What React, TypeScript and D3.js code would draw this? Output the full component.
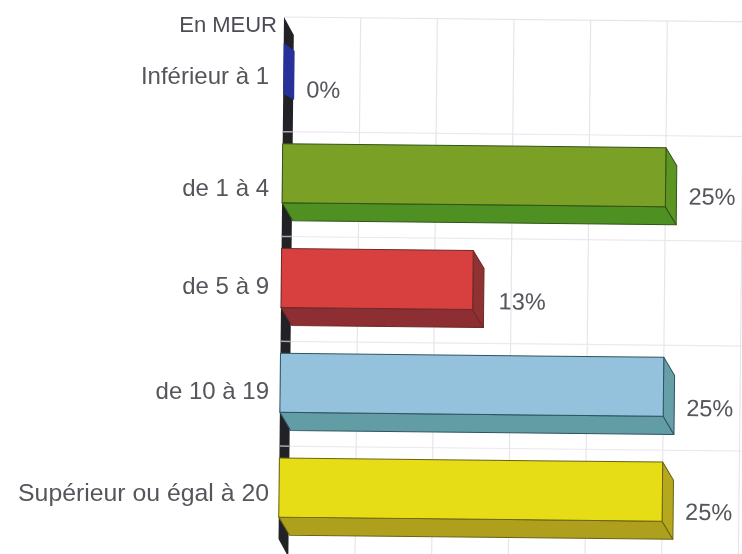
import React from "react";
import * as d3 from "d3";

const categories = ["Inférieur à 1", "de 1 à 4", "de 5 à 9", "de 10 à 19", "Supérieur ou égal à 20"];
const values = [0, 25, 12.5, 25, 25];
const valueLabels = ["0%", "25%", "13%", "25%", "25%"];
const xTicks = [0, 5, 10, 15, 20, 25, 30];
const frontColors = ["#27309a", "#7aa026", "#d8413f", "#94c2dc", "#e6dd14"];
const sideColors = ["#27309a", "#5c9524", "#8f3033", "#669fa8", "#b5a81e"];
const bottomColors = ["#27309a", "#4f9022", "#8c2d30", "#629ca4", "#aea01a"];
const edgeColors = ["#1c2270", "#33531a", "#6e2a2a", "#2f5560", "#6b6418"];
const unitLabel = "En MEUR";
const labelNudge = [10, 17, 10, 10, 7];
const labelSizes = [24, 24, 24, 24, 24.8];
const valueNudge = [29, 27, 29, 29, 28];
const valueGap = [23, 23, 26, 23, 23];

const W = 742, H = 554;
const ox = 284, oy = 17, tilt = 0.6;
const dx = 11, dy = 18;
const x = d3.scaleLinear().domain([0, 30]).range([0, 460]);
const y = d3.scaleBand<string>().domain(categories).range([-1, 523]).paddingInner(0.437).paddingOuter(0.218);
const FONT = "'Liberation Sans', Arial, sans-serif";
const pts = (p: number[][]) => p.map((q) => q.join(",")).join(" ");

export default function App() {
  const bw = y.bandwidth();
  return (
    <svg width={W} height={H} style={{ position: "absolute", left: 0, top: 0, background: "#fff" }} fontFamily={FONT}>
      <defs>
        <filter id="scan" x="-2%" y="-2%" width="104%" height="104%">
          <feGaussianBlur stdDeviation="0.55" />
        </filter>
      </defs>
      <g filter="url(#scan)">
        <g transform={`translate(${ox},${oy}) rotate(${tilt})`}>
          <line x1={0} y1={0} x2={470} y2={0} stroke="#e8e4ec" strokeWidth={1.2} />
          {categories.slice(1).map((c) => (
            <line key={c} x1={0} x2={470} y1={(y(c) as number) - 12} y2={(y(c) as number) - 12} stroke="#ece8f0" strokeWidth={1.2} />
          ))}
          {xTicks.slice(1).map((t) => (
            <line key={t} x1={x(t)} x2={x(t)} y1={0} y2={540} stroke="#e8e4ec" strokeWidth={1.2} />
          ))}
          <polygon points={pts([[0, 0], [10, 18], [10, 540], [0, 522]])} fill="#232326" />
          {categories.slice(1).map((c) => (
            <line key={c} x1={0} x2={10} y1={(y(c) as number) - 12} y2={(y(c) as number) - 12} stroke="#a9a9ad" strokeWidth={1.5} />
          ))}
          {categories.map((c, i) => {
            const t = y(c) as number;
            const w = x(values[i]);
            const edge = edgeColors[i];
            if (values[i] === 0) {
              return <polygon key={c} points={pts([[0, t + 4], [dx, t + 12], [dx, t + bw + 2], [0, t + bw - 4]])} fill={frontColors[i]} />;
            }
            return (
              <g key={c} stroke={edge} strokeWidth={1} strokeLinejoin="round">
                <polygon points={pts([[0, t + bw], [w, t + bw], [w + dx, t + bw + dy], [dx, t + bw + dy]])} fill={bottomColors[i]} />
                <polygon points={pts([[w, t], [w + dx, t + dy], [w + dx, t + bw + dy], [w, t + bw]])} fill={sideColors[i]} />
                <rect x={0} y={t} width={w} height={bw} fill={frontColors[i]} />
              </g>
            );
          })}
          {categories.map((c, i) => (
            <text key={c} x={x(values[i]) + valueGap[i]} y={(y(c) as number) + bw / 2 + valueNudge[i]} fontSize={23.5} fill="#55545c">
              {valueLabels[i]}
            </text>
          ))}
        </g>
        <text x={277} y={32} textAnchor="end" fontSize={22} fill="#4d4c55">{unitLabel}</text>
        {categories.map((c, i) => (
          <text key={c} x={269} y={oy + (y(c) as number) + bw / 2 + labelNudge[i] + 6} textAnchor="end" fontSize={labelSizes[i]} fill="#55545c">
            {c}
          </text>
        ))}
      </g>
    </svg>
  );
}
